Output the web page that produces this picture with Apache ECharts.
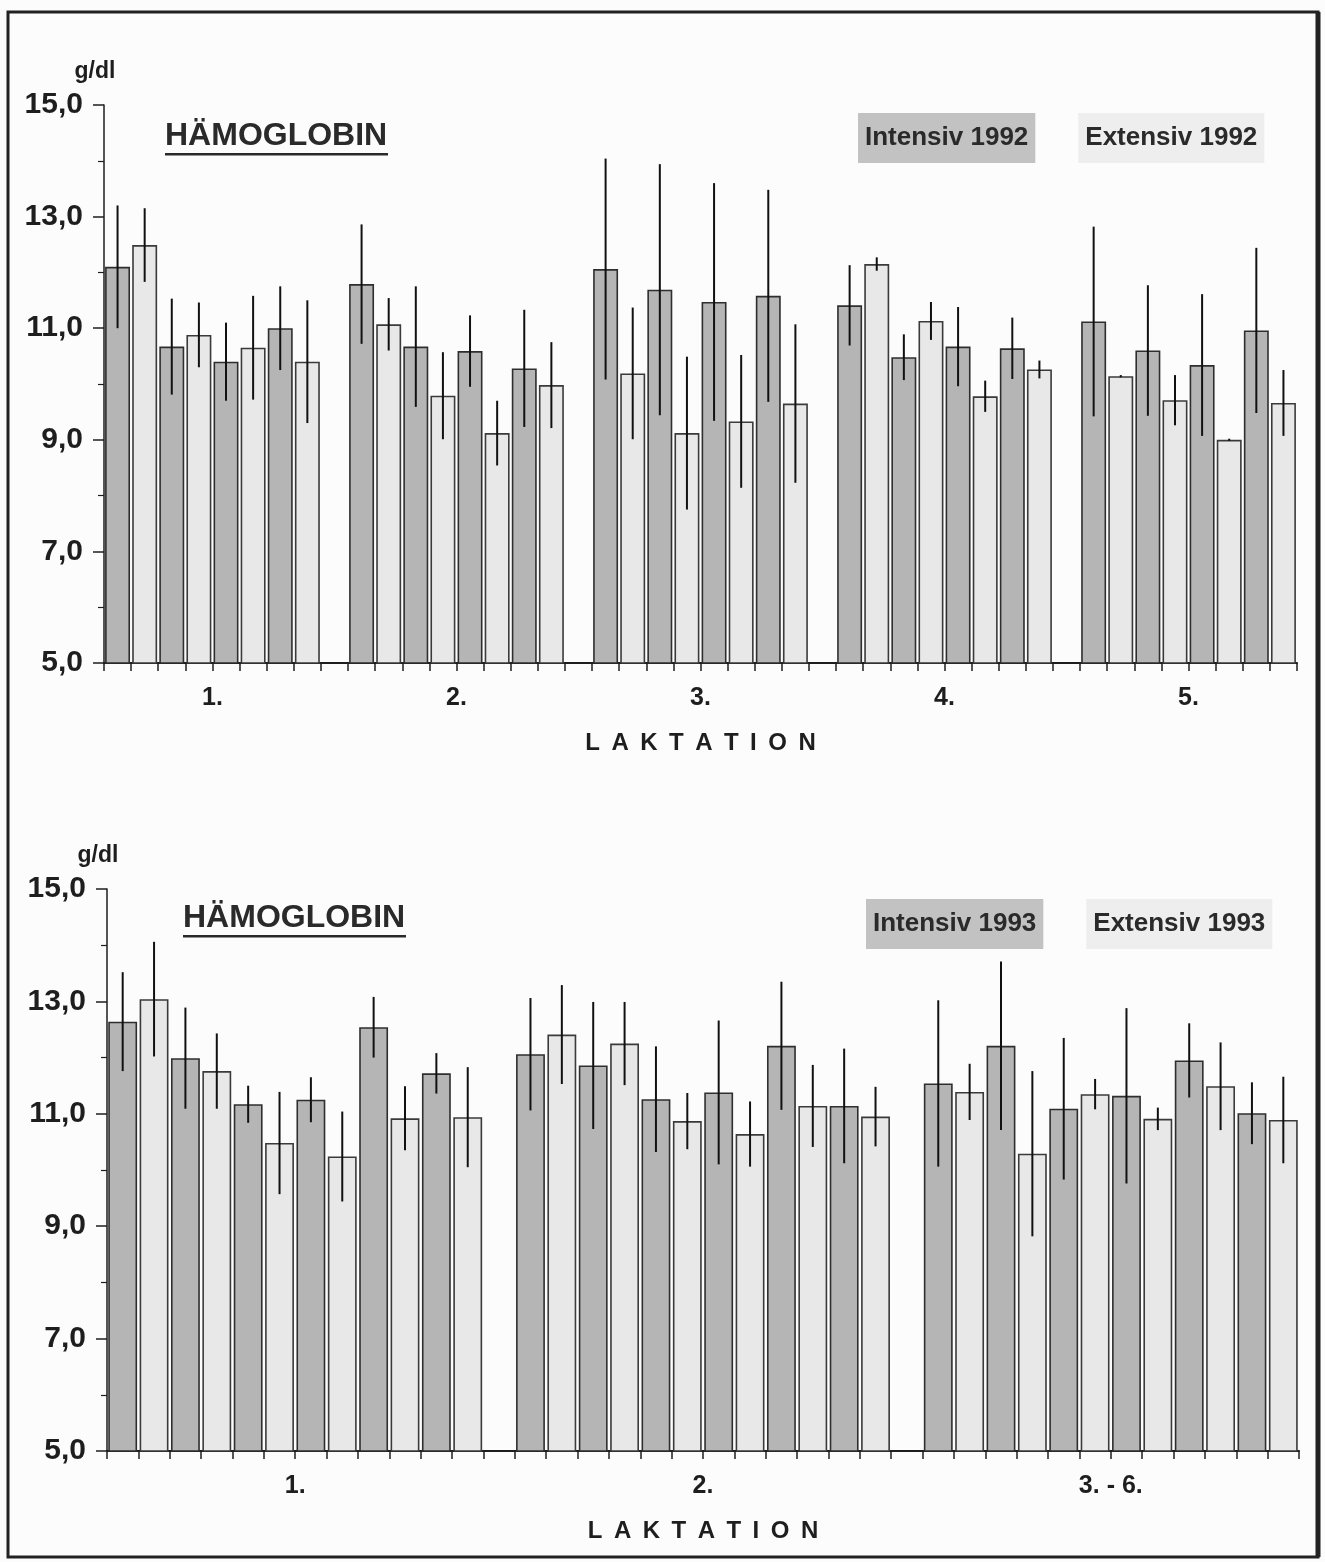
<!DOCTYPE html>
<html><head><meta charset="utf-8">
<script src="https://cdn.jsdelivr.net/npm/echarts@6/dist/echarts.min.js"></script>
<style>html,body{margin:0;padding:0;background:#fff}#c{width:1325px;height:1562px}</style>
</head><body><div id="c"></div>
<script>
// ---------- DATA (g/dl) ----------
// Top chart: 1992, Laktation 1.-5., 4 pairs (Intensiv / Extensiv) per Laktation
const TOP_GROUPS = ['1.', '2.', '3.', '4.', '5.'];
const TOP_PAIRS = 4;
const TOP_INT_MEAN = [12.10, 10.67, 10.40, 11.00,  11.79, 10.67, 10.59, 10.28,  12.06, 11.69, 11.47, 11.58,  11.41, 10.48, 10.67, 10.64,  11.12, 10.60, 10.34, 10.96];
const TOP_INT_SD   = [ 1.10,  0.86,  0.70,  0.75,   1.07,  1.08,  0.64,  1.05,   1.98,  2.25,  2.13,  1.90,   0.72,  0.41,  0.71,  0.55,   1.70,  1.17,  1.27,  1.48];
const TOP_EXT_MEAN = [12.49, 10.88, 10.65, 10.40,  11.07,  9.79,  9.12,  9.98,  10.19,  9.12,  9.33,  9.65,  12.15, 11.13,  9.78, 10.26,  10.14,  9.71,  9.00,  9.66];
const TOP_EXT_SD   = [ 0.66,  0.58,  0.93,  1.10,   0.47,  0.78,  0.58,  0.77,   1.18,  1.37,  1.19,  1.42,   0.12,  0.34,  0.28,  0.16,   0.02,  0.45,  0.02,  0.59];
// Bottom chart: 1993, Laktation 1., 2., 3.-6., 6 pairs per group
const BOT_GROUPS = ['1.', '2.', '3. - 6.'];
const BOT_PAIRS = 6;
const BOT_INT_MEAN = [12.64, 11.99, 11.17, 11.25, 12.54, 11.72,  12.06, 11.86, 11.26, 11.38, 12.21, 11.14,  11.54, 12.21, 11.09, 11.32, 11.95, 11.01];
const BOT_INT_SD   = [ 0.88,  0.90,  0.33,  0.40,  0.54,  0.36,   1.00,  1.13,  0.94,  1.28,  1.14,  1.02,   1.48,  1.50,  1.26,  1.56,  0.66,  0.55];
const BOT_EXT_MEAN = [13.04, 11.76, 10.48, 10.24, 10.92, 10.94,  12.41, 12.25, 10.87, 10.64, 11.14, 10.95,  11.39, 10.29, 11.35, 10.91, 11.49, 10.89];
const BOT_EXT_SD   = [ 1.02,  0.67,  0.91,  0.80,  0.57,  0.89,   0.88,  0.74,  0.50,  0.58,  0.73,  0.53,   0.50,  1.47,  0.27,  0.20,  0.78,  0.77];
const Y_TICKS = [5, 7, 9, 11, 13, 15];

// ---------- build slot layout (each bar one category, one empty slot between groups) ----------
function build(groups, pairs, im, isd, em, esd) {
  const per = pairs * 2 + 1;
  const n = groups.length * per - 1;
  const cats = [], intD = [], extD = [], err = [], labels = {};
  for (let i = 0; i < n; i++) { cats.push('s' + i); intD.push('-'); extD.push('-'); }
  groups.forEach((g, gi) => {
    labels[gi * per + pairs] = g;
    for (let p = 0; p < pairs; p++) {
      const k = gi * pairs + p, si = gi * per + 2 * p;
      intD[si] = im[k]; extD[si + 1] = em[k];
      err.push([si, im[k], isd[k]]); err.push([si + 1, em[k], esd[k]]);
    }
  });
  return { n, cats, intD, extD, err, labels };
}
const T = build(TOP_GROUPS, TOP_PAIRS, TOP_INT_MEAN, TOP_INT_SD, TOP_EXT_MEAN, TOP_EXT_SD);
const B = build(BOT_GROUPS, BOT_PAIRS, BOT_INT_MEAN, BOT_INT_SD, BOT_EXT_MEAN, BOT_EXT_SD);

const FONT = "'Liberation Sans', Arial, Helvetica, sans-serif";
const INK = '#1e1e1e';
const SP = ' \u2009';

function xAxes(gi, S) {
  return [
    { gridIndex: gi, type: 'category', data: S.cats, show: false },
    { gridIndex: gi, type: 'value', min: 0, max: S.n, interval: 1, position: 'bottom',
      axisLine: { show: true, lineStyle: { color: INK, width: 2 } },
      axisTick: { show: true, length: 8, lineStyle: { color: INK, width: 1.5 } },
      splitLine: { show: false },
      axisLabel: { interval: 0, margin: 23, color: INK, fontFamily: FONT, fontWeight: 'bold', fontSize: 25,
        formatter: v => (S.labels[v] !== undefined ? S.labels[v] : '') },
      name: 'LAKTATION'.split('').join(SP), nameLocation: 'middle', nameGap: 68,
      nameTextStyle: { color: INK, fontFamily: FONT, fontWeight: 'bold', fontSize: 24 } }
  ];
}
function yAxis(gi) {
  return { gridIndex: gi, type: 'value', min: Y_TICKS[0], max: Y_TICKS[Y_TICKS.length - 1], interval: 2,
    axisLine: { show: true, lineStyle: { color: INK, width: 1.5 } },
    axisTick: { show: true, length: 11, lineStyle: { color: INK, width: 1.5 } },
    minorTick: { show: true, splitNumber: 2, length: 6, lineStyle: { color: INK, width: 1.2 } },
    splitLine: { show: false }, minorSplitLine: { show: false },
    axisLabel: { margin: 21, color: INK, fontFamily: FONT, fontWeight: 'bold', fontSize: 30,
      formatter: v => v.toFixed(1).replace('.', ',') },
    name: 'g/dl', nameLocation: 'end', nameGap: 22,
    nameTextStyle: { color: INK, fontFamily: FONT, fontWeight: 'bold', fontSize: 23, padding: [0, 18, 0, 0] } };
}
function series(xi, yi, S, year) {
  const common = { type: 'bar', xAxisIndex: xi, yAxisIndex: yi, barGap: '-100%', barCategoryGap: '8%' };
  return [
    Object.assign({ name: 'Intensiv ' + year, data: S.intD,
      itemStyle: { color: '#b5b5b5', borderColor: '#2e2e2e', borderWidth: 1.6 } }, common),
    Object.assign({ name: 'Extensiv ' + year, data: S.extD,
      itemStyle: { color: '#e8e8e8', borderColor: '#3a3a3a', borderWidth: 1.6 } }, common),
    { type: 'custom', xAxisIndex: xi, yAxisIndex: yi, data: S.err, z: 5,
      renderItem: (params, api) => {
        const x = api.value(0), m = api.value(1), s = api.value(2);
        const a = api.coord([x, m - s]), b = api.coord([x, m + s]);
        return { type: 'line', shape: { x1: a[0], y1: a[1], x2: b[0], y2: b[1] },
          style: { stroke: '#111', lineWidth: 2 } };
      } }
  ];
}
function legend(year, left, top) {
  return { left, top, icon: 'none', itemWidth: 0, itemHeight: 0, itemGap: 38, selectedMode: false,
    textStyle: { fontFamily: FONT, fontWeight: 'bold', fontSize: 26, color: '#2a2a2a', padding: [12, 7] },
    data: [
      { name: 'Intensiv ' + year, textStyle: { backgroundColor: '#c2c2c2' } },
      { name: 'Extensiv ' + year, textStyle: { backgroundColor: '#eeeeee' } }
    ] };
}
function title(left, top) {
  return { type: 'group', left, top, children: [
    { type: 'text', style: { text: 'HÄMOGLOBIN', font: `bold 32px ${FONT}`, fill: '#2a2a2a' } },
    { type: 'rect', shape: { x: 0, y: 33, width: 223, height: 2.5 }, style: { fill: '#2a2a2a' } }
  ] };
}

const chart = echarts.init(document.getElementById('c'));
chart.setOption({
  backgroundColor: '#fcfcfc',
  animation: false,
  grid: [
    { left: 104, top: 105, width: 1193, height: 558 },
    { left: 107, top: 889, width: 1192, height: 562 }
  ],
  xAxis: [...xAxes(0, T), ...xAxes(1, B)],
  yAxis: [yAxis(0), yAxis(1)],
  legend: [legend('1992', 848, 108), legend('1993', 856, 894)],
  series: [...series(0, 0, T, '1992'), ...series(2, 1, B, '1993')],
  graphic: [
    { type: 'rect', shape: { x: 8, y: 12, width: 1310, height: 1545 }, style: { fill: null, stroke: '#222', lineWidth: 3 } },
    { type: 'line', shape: { x1: 1318, y1: 12, x2: 1318, y2: 1557 }, style: { stroke: '#222', lineWidth: 5 } },
    title(165, 120),
    title(183, 902)
  ]
});
</script></body></html>
